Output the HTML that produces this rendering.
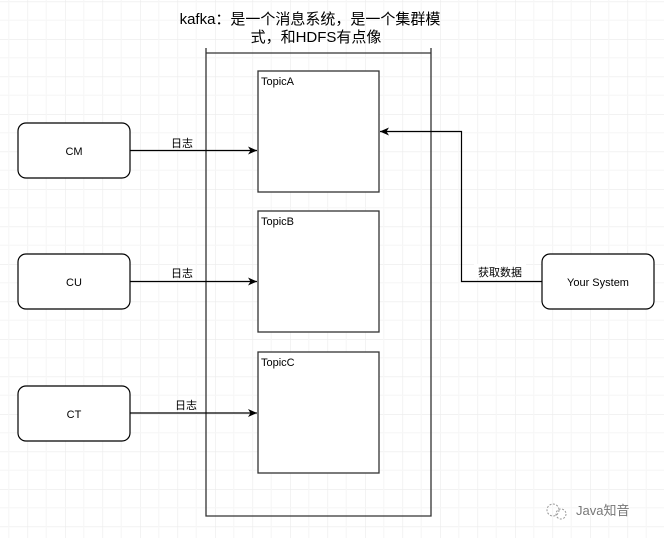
<!DOCTYPE html>
<html><head><meta charset="utf-8"><style>
html,body{margin:0;padding:0;background:#fff;}
svg{display:block;}
text{font-family:"Liberation Sans","Noto Sans CJK SC",sans-serif;fill:#000;}
</style></head><body>
<svg width="664" height="538" viewBox="0 0 664 538" xmlns="http://www.w3.org/2000/svg">
<defs>
<pattern id="g" x="27.5" y="1.5" width="37.5" height="37.5" patternUnits="userSpaceOnUse">
<path d="M0 0H37.5M0 0V37.5" stroke="#ebebeb" stroke-width="1.2" fill="none"/>
<path d="M0 18.75H37.5M18.75 0V37.5" stroke="#f6f6f6" stroke-width="1" fill="none"/>
</pattern>
<marker id="a" markerWidth="10" markerHeight="10" refX="9" refY="5" orient="auto" markerUnits="userSpaceOnUse">
<path d="M0 1L9 5L0 9L2.5 5Z" fill="#000"/>
</marker>
</defs>
<rect width="664" height="538" fill="#fff"/>
<rect width="664" height="538" fill="url(#g)"/>
<text x="310" y="24" font-size="15" text-anchor="middle">kafka：是一个消息系统，是一个集群模</text>
<text x="316" y="42" font-size="15" text-anchor="middle">式，和HDFS有点像</text>
<path d="M206 48V516H431V48M206 53H431" stroke="#333" stroke-width="1.3" fill="none"/>
<rect x="258" y="71" width="121" height="121" fill="#fff" stroke="#333" stroke-width="1.3"/>
<rect x="258" y="211" width="121" height="121" fill="#fff" stroke="#333" stroke-width="1.3"/>
<rect x="258" y="352" width="121" height="121" fill="#fff" stroke="#333" stroke-width="1.3"/>
<text x="261" y="85" font-size="11">TopicA</text>
<text x="261" y="225" font-size="11">TopicB</text>
<text x="261" y="366" font-size="11">TopicC</text>
<rect x="18" y="123" width="112" height="55" rx="8" fill="#fff" stroke="#000" stroke-width="1.2"/>
<rect x="18" y="254" width="112" height="55" rx="8" fill="#fff" stroke="#000" stroke-width="1.2"/>
<rect x="18" y="386" width="112" height="55" rx="8" fill="#fff" stroke="#000" stroke-width="1.2"/>
<rect x="542" y="254" width="112" height="55" rx="8" fill="#fff" stroke="#000" stroke-width="1.2"/>
<text x="74" y="155" font-size="11" text-anchor="middle">CM</text>
<text x="74" y="286" font-size="11" text-anchor="middle">CU</text>
<text x="74" y="418" font-size="11" text-anchor="middle">CT</text>
<text x="598" y="286" font-size="11" text-anchor="middle">Your System</text>
<path d="M130 150.5H257" stroke="#000" stroke-width="1.2" marker-end="url(#a)"/>
<path d="M130 281.5H257" stroke="#000" stroke-width="1.2" marker-end="url(#a)"/>
<path d="M130 413H257" stroke="#000" stroke-width="1.2" marker-end="url(#a)"/>
<text x="182" y="147" font-size="11" text-anchor="middle">日志</text>
<text x="182" y="277" font-size="11" text-anchor="middle">日志</text>
<text x="186" y="409" font-size="11" text-anchor="middle">日志</text>
<path d="M542 281.5H461.5V131.5H380" stroke="#000" stroke-width="1.2" fill="none" marker-end="url(#a)"/>
<rect x="474" y="264" width="52" height="14" fill="#fff"/>
<text x="500" y="276" font-size="11" text-anchor="middle">获取数据</text>
<circle cx="553" cy="510" r="6" fill="none" stroke="#999" stroke-dasharray="2 1.5"/>
<circle cx="561" cy="514" r="5" fill="none" stroke="#999" stroke-dasharray="2 1.5"/>
<text x="576" y="515" font-size="13" style="fill:#777">Java知音</text>
</svg>
</body></html>
